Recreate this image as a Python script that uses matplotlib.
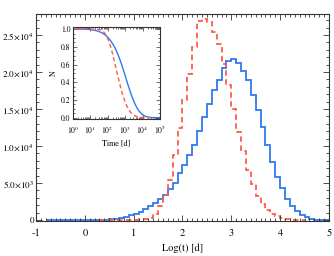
import numpy as np
import matplotlib
matplotlib.use('Agg')
import matplotlib.pyplot as plt
from matplotlib.ticker import MultipleLocator, FixedLocator, FixedFormatter, LogLocator, NullFormatter

plt.rcParams['font.family'] = ['STIXGeneral', 'DejaVu Serif']
plt.rcParams['mathtext.fontset'] = 'stix'

# ---- data (histograms of Log(t), bin width 0.1 dex) ----
bin_width = 0.1
blue_first_edge = -0.8
blue_counts = [3, 3, 4, 5, 6, 8, 10, 13, 17, 22, 30, 40, 60,
               100, 170, 300, 450, 620, 850, 1120, 1480, 1880, 2260,
               2800, 3380, 4150, 5050, 6300, 7420, 8780, 10120, 12050,
               13950, 15650, 17630, 18900, 20600, 21460, 21820, 21230,
               20150, 18900, 16870, 14870, 12510, 10120, 7870, 5850,
               4280, 2880, 1890, 1220, 680, 370, 160, 60, 20, 5]
red_first_edge = 0.3
red_counts = [5, 8, 10, 15, 20, 25, 35, 50, 80, 140, 260, 850, 1850,
              3400, 5400, 8800, 12400, 16200, 19800, 23400, 26850,
              27100, 26750, 25400, 23850, 21150, 18200, 14950, 11850,
              9300, 6780, 4900, 3300, 2180, 1370, 820, 520, 280, 120,
              40, 10, 3]

xtick_values = [-1, 0, 1, 2, 3, 4, 5]
xtick_labels = ['-1', '0', '1', '2', '3', '4', '5']
ytick_values = [0, 5000, 10000, 15000, 20000, 25000]
ytick_labels = ['0', r'5.0$\times$10$^3$', r'1.0$\times$10$^4$',
                r'1.5$\times$10$^4$', r'2.0$\times$10$^4$', r'2.5$\times$10$^4$']
inset_xtick_values = [1e0, 1e1, 1e2, 1e3, 1e4, 1e5]
inset_xtick_labels = [r'10$^0$', r'10$^1$', r'10$^2$', r'10$^3$', r'10$^4$', r'10$^5$']
inset_ytick_values = [0.0, 0.2, 0.4, 0.6, 0.8, 1.0]
inset_ytick_labels = ['0.0', '0.2', '0.4', '0.6', '0.8', '1.0']

BLUE = '#2f78f0'
RED = '#ff5a4a'
AXC = '#333333'

blue_edges = blue_first_edge + bin_width * np.arange(len(blue_counts) + 1)
red_edges = red_first_edge + bin_width * np.arange(len(red_counts) + 1)

fig = plt.figure(figsize=(3.34, 2.56), dpi=100)
ax = fig.add_axes([0.1078, 0.1367, 0.877, 0.8086])
ax.stairs(blue_counts, blue_edges, color=BLUE, lw=1.3)
ax.stairs(red_counts, red_edges, color=RED, lw=1.3, linestyle=(0, (3, 2)))
ax.set_xlim(-1, 5)
ax.set_ylim(-130, 27840)
ax.xaxis.set_major_locator(FixedLocator(xtick_values))
ax.xaxis.set_major_formatter(FixedFormatter(xtick_labels))
ax.yaxis.set_major_locator(FixedLocator(ytick_values))
ax.yaxis.set_major_formatter(FixedFormatter(ytick_labels))
ax.xaxis.set_minor_locator(MultipleLocator(0.1))
ax.yaxis.set_minor_locator(MultipleLocator(1000))
ax.tick_params(which='both', direction='in', top=True, right=True, colors=AXC,
               width=0.6, labelcolor='black')
ax.tick_params(which='major', length=4.3)
ax.tick_params(which='minor', length=2.3)
ax.tick_params(axis='x', pad=5, labelsize=7.5)
ax.tick_params(axis='y', pad=1.5, labelsize=6.6)
for s in ax.spines.values():
    s.set_color(AXC)
    s.set_linewidth(0.8)
ax.set_xlabel('Log(t) [d]', fontsize=7.5, labelpad=4)

# ---- inset: surviving fraction N(t) derived from the histograms ----
ins = fig.add_axes([0.2177, 0.5363, 0.2614, 0.357])
blue_arr = np.asarray(blue_counts, dtype=float)
red_arr = np.asarray(red_counts, dtype=float)
blue_N = 1.0 - np.concatenate([[0.0], np.cumsum(blue_arr)]) / blue_arr.sum()
red_N = 1.0 - np.concatenate([[0.0], np.cumsum(red_arr)]) / red_arr.sum()
ins.plot(10 ** blue_edges, blue_N, color=BLUE, lw=1.0)
ins.plot(10 ** np.concatenate([[-1.0], red_edges]), np.concatenate([[1.0], red_N]),
         color=RED, lw=1.0, linestyle=(0, (3, 2)))
ins.set_xscale('log')
ins.set_xlim(1, 1e5)
ins.set_ylim(-0.012, 1.02)
ins.xaxis.set_major_locator(FixedLocator(inset_xtick_values))
ins.xaxis.set_major_formatter(FixedFormatter(inset_xtick_labels))
ins.xaxis.set_minor_locator(LogLocator(base=10, subs=np.arange(2, 10), numticks=20))
ins.xaxis.set_minor_formatter(NullFormatter())
ins.yaxis.set_major_locator(FixedLocator(inset_ytick_values))
ins.yaxis.set_major_formatter(FixedFormatter(inset_ytick_labels))
ins.yaxis.set_minor_locator(MultipleLocator(0.05))
ins.tick_params(which='both', direction='in', top=True, right=True, colors=AXC,
                width=0.5, labelsize=5.5, labelcolor='black')
ins.tick_params(which='major', length=3)
ins.tick_params(which='minor', length=1.6)
ins.tick_params(axis='x', pad=4)
ins.tick_params(axis='y', pad=1.5)
for s in ins.spines.values():
    s.set_color(AXC)
    s.set_linewidth(0.8)
ins.set_xlabel('Time [d]', fontsize=5.8, labelpad=2)
ins.set_ylabel('N', fontsize=5.8, labelpad=2)

fig.savefig('out.png', dpi=100)
